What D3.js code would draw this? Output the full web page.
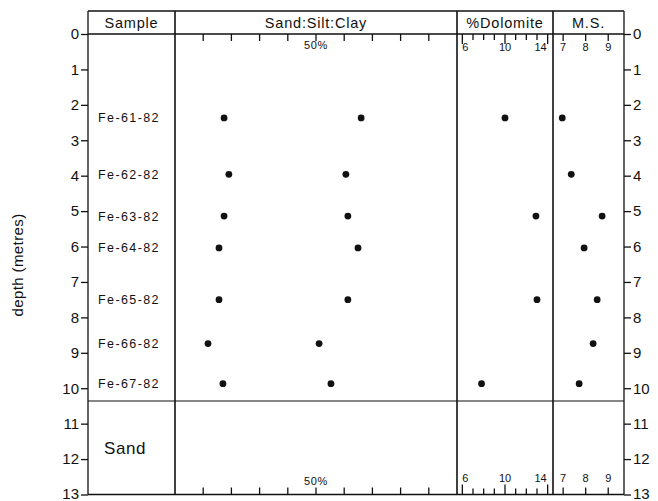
<!DOCTYPE html>
<html><head><meta charset="utf-8">
<script src="https://cdn.jsdelivr.net/npm/d3@7"></script>
<style>
body{margin:0;background:#fff;}
text{font-family:"Liberation Sans",Arial,sans-serif;fill:#111;}
</style></head>
<body><svg id="c" width="658" height="501"></svg>
<script>
const samples = ["Fe-61-82","Fe-62-82","Fe-63-82","Fe-64-82","Fe-65-82","Fe-66-82","Fe-67-82"];
const depths = [2.37, 3.96, 5.14, 6.04, 7.5, 8.74, 9.87];
const sandPct = [17.4, 19.1, 17.4, 15.6, 15.6, 11.7, 17.0];
const sandSiltPct = [66.0, 60.6, 61.3, 64.9, 61.3, 51.1, 55.3];
const dolomitePct = [10.0, null, 12.9, null, 13.0, null, 7.8];
const magSus = [6.96, 7.36, 8.73, 7.93, 8.51, 8.33, 7.71];
const depthTicks = d3.range(0, 14);
const sscTicks = [10,20,30,40,50,60,70,80,90];
const dolTicks = [6,7,8,9,10,11,12,13,14];
const dolLabels = [6,10,14];
const msTicks = [7,8,9];
const sandTopDepth = 10.36;
const headers = ["Sample","Sand:Silt:Clay","%Dolomite","M.S."];

(function(){
const svg = d3.select("#c");
const yTop = 11, y0 = 34, y1 = 494.5;
const colX = [88,175,457,553,624];
const y = d3.scaleLinear().domain([0,13]).range([y0,y1]);
const xS = d3.scaleLinear().domain([0,100]).range([colX[1],colX[2]]);
const xD = d3.scaleLinear().domain([5.5,14.5]).range([colX[2],colX[3]]);
const xM = d3.scaleLinear().domain([6.55,9.7]).range([colX[3],colX[4]]);

// frame
const g = svg.append("g").attr("stroke","#111").attr("fill","none");
g.append("line").attr("x1",colX[0]).attr("x2",colX[4]).attr("y1",yTop).attr("y2",yTop).attr("stroke-width",1.3);
g.append("line").attr("x1",colX[0]).attr("x2",colX[4]).attr("y1",y0).attr("y2",y0).attr("stroke-width",1.5);
g.append("line").attr("x1",colX[0]).attr("x2",colX[4]).attr("y1",y1).attr("y2",y1).attr("stroke-width",1.5);
g.append("line").attr("x1",colX[0]).attr("x2",colX[4]).attr("y1",y(sandTopDepth)).attr("y2",y(sandTopDepth)).attr("stroke-width",1.2);
colX.forEach((x,i)=>{
  g.append("line").attr("x1",x).attr("x2",x).attr("y1",yTop).attr("y2",y1).attr("stroke-width",i==0||i==4?1.3:1.6);
});

// depth axes
const fmt = d3.format("d");
const styleAxis = a=>{a.select(".domain").remove();a.selectAll("line").attr("stroke","#111").attr("stroke-width",1.3);
    a.selectAll("text").attr("font-size",15).style("fill","#111").attr("font-family","Liberation Sans, Arial, sans-serif");
    a.selectAll(".tick").filter(d=>d===13).select("text").attr("dy","0.28em");};
svg.append("g").attr("transform",`translate(${colX[0]},0)`)
  .call(d3.axisLeft(y).tickValues(depthTicks).tickFormat(fmt).tickSize(7).tickPadding(2)).call(styleAxis);
svg.append("g").attr("transform",`translate(${colX[4]},0)`)
  .call(d3.axisRight(y).tickValues(depthTicks).tickFormat(fmt).tickSize(7).tickPadding(2)).call(styleAxis);

svg.append("text").attr("transform","translate(23,265) rotate(-90)").attr("text-anchor","middle")
  .attr("font-size",15).attr("letter-spacing",0.4).text("depth (metres)");

// headers
headers.forEach((h,i)=>{
  svg.append("text").attr("x",(colX[i]+colX[i+1])/2).attr("y",yTop+16.5).attr("text-anchor","middle")
    .attr("font-size",14.5).attr("letter-spacing",0.8).text(h);
});

// scale ticks top and bottom
function ticks(scale, vals, lenFn, yBase, dir){
  svg.append("g").selectAll("line").data(vals).join("line")
    .attr("x1",d=>scale(d)).attr("x2",d=>scale(d))
    .attr("y1",yBase).attr("y2",d=>yBase+dir*lenFn(d))
    .attr("stroke","#111").attr("stroke-width",1.3);
}
[[y0,1],[y1,-1]].forEach(([yb,dir])=>{
  ticks(xS, sscTicks, d=>7, yb, dir);
  ticks(xD, dolTicks, d=>dolLabels.includes(d)?10:6, yb, dir);
  ticks(xM, msTicks, d=>7, yb, dir);
});
svg.append("text").attr("x",xS(50)).attr("y",y0+15).attr("text-anchor","middle").attr("font-size",11).attr("letter-spacing",0.7).text("50%");
svg.append("text").attr("x",xS(50)).attr("y",y1-10).attr("text-anchor","middle").attr("font-size",11).attr("letter-spacing",0.7).text("50%");
[y0+17, y1-13].forEach(yy=>{
  dolLabels.forEach((d,i)=>{
    svg.append("text").attr("x",xD(d)+(i==0?0:(i==2?-1:0))).attr("y",yy)
      .attr("text-anchor",i==0?"start":(i==2?"end":"middle")).attr("font-size",11).text(d);
  });
  msTicks.forEach(d=>{
    svg.append("text").attr("x",xM(d)).attr("y",yy).attr("text-anchor","middle").attr("font-size",11).text(d);
  });
});

// sample labels
svg.append("g").selectAll("text").data(samples).join("text")
  .attr("x",98).attr("y",(d,i)=>y(depths[i])+4.5).attr("font-size",12.5).attr("letter-spacing",1.4).text(d=>d);
svg.append("text").attr("x",104).attr("y",y(11.7)+6).attr("font-size",17).attr("letter-spacing",0.6).text("Sand");

// points
const dots = svg.append("g").attr("fill","#111");
const idx = d3.range(samples.length);
dots.append("g").selectAll("circle").data(idx).join("circle").attr("cx",i=>xS(sandPct[i])).attr("cy",i=>y(depths[i])).attr("r",3.4);
dots.append("g").selectAll("circle").data(idx).join("circle").attr("cx",i=>xS(sandSiltPct[i])).attr("cy",i=>y(depths[i])).attr("r",3.4);
dots.append("g").selectAll("circle").data(idx.filter(i=>dolomitePct[i]!=null)).join("circle").attr("cx",i=>xD(dolomitePct[i])).attr("cy",i=>y(depths[i])).attr("r",3.4);
dots.append("g").selectAll("circle").data(idx).join("circle").attr("cx",i=>xM(magSus[i])).attr("cy",i=>y(depths[i])).attr("r",3.4);
})();
</script></body></html>
